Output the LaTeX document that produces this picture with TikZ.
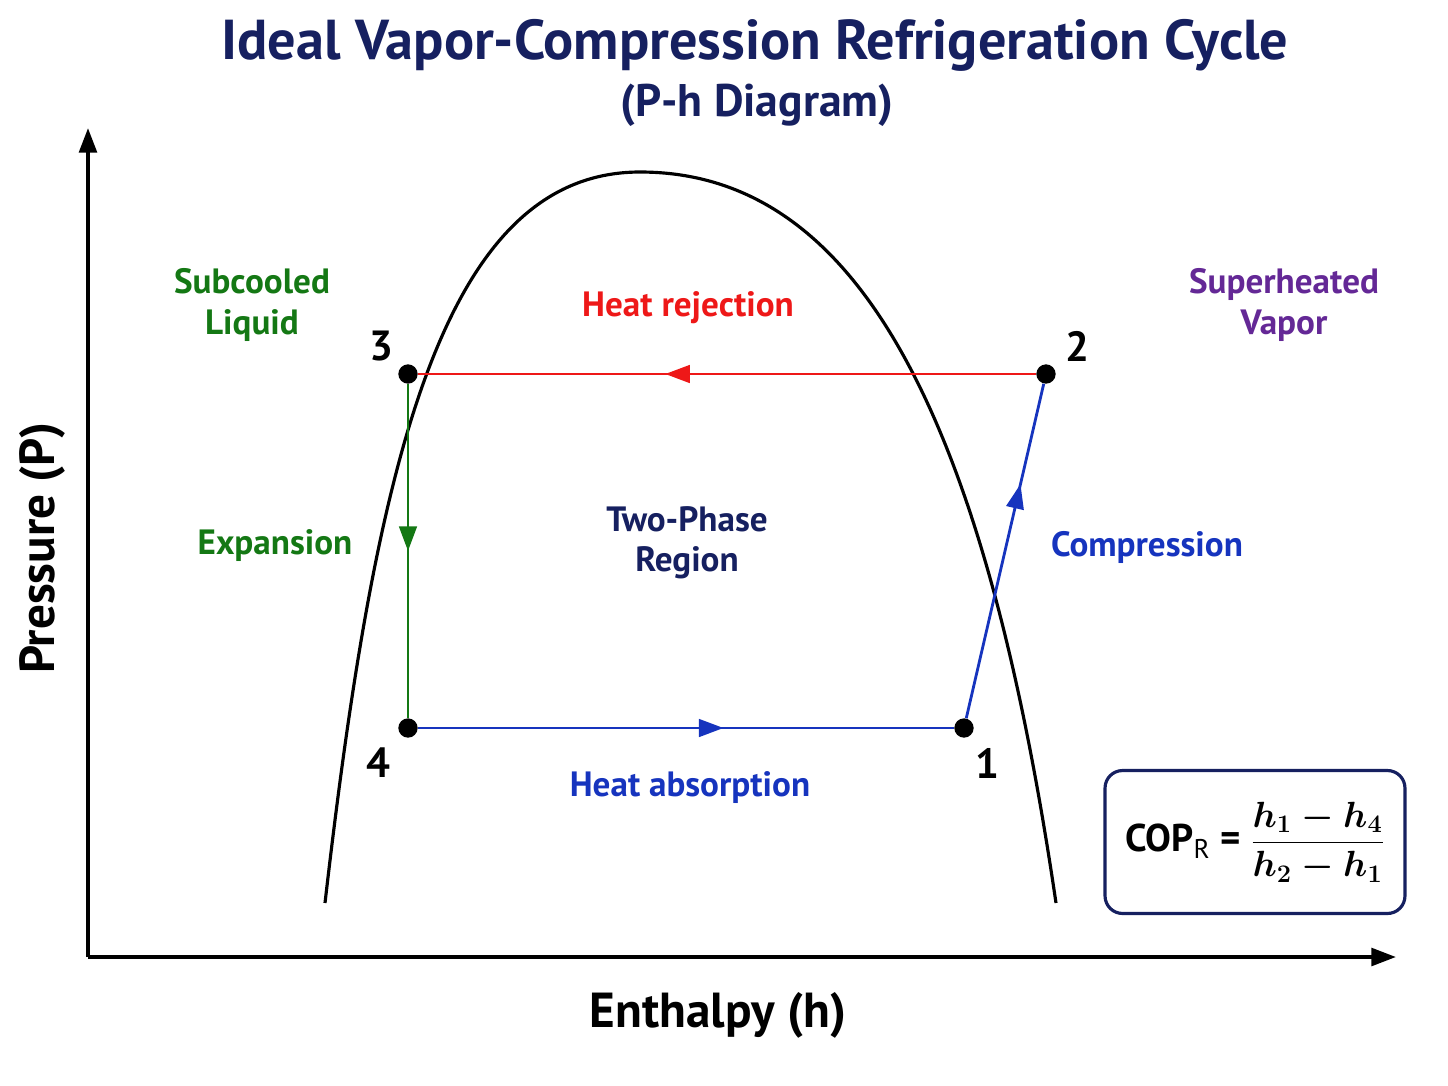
\documentclass[tikz,border=0pt]{standalone}
\usepackage{amsmath}
\usepackage{fontspec}
\setmainfont{PT Sans}
\usepackage{tikz}
\usetikzlibrary{arrows.meta, decorations.markings}
\definecolor{titlenavy}{RGB}{22,32,96}
\definecolor{cycred}{RGB}{238,24,24}
\definecolor{cycgreen}{RGB}{20,120,20}
\definecolor{cycblue}{RGB}{22,52,190}
\definecolor{cycpurple}{RGB}{100,40,150}

\begin{document}
\begin{tikzpicture}[
    x=0.02cm, y=-0.02cm,
    lbl/.style={font=\fontsize{20}{23}\selectfont\bfseries, align=center},
    num/.style={font=\fontsize{24}{26}\selectfont\bfseries},
    state/.style={circle, fill=black, inner sep=0pt, minimum size=11pt},
    axis/.style={-{Triangle[length=14pt,width=10pt]}, line width=2.2pt},
    flow/.style={line width=1.6pt, postaction={decorate}, decoration={markings,
        mark=at position #1 with {\arrow{Triangle[length=14pt,width=10pt]}}}}
]
\useasboundingbox (0,0) rectangle (1448,1086);

% Title
\node[font=\fontsize{32}{36}\selectfont\bfseries, text=titlenavy] (title) at (755,45) {Ideal Vapor-Compression Refrigeration Cycle};
\node[font=\fontsize{26}{30}\selectfont\bfseries, text=titlenavy] (subtitle) at (757,105) {(P-h Diagram)};

% Axes
\coordinate (origin) at (88,957);
\coordinate (ptop) at (88,128);
\coordinate (hend) at (1396,957);
\draw[axis] (origin) -- (ptop);
\draw[axis] (origin) -- (hend);
\node[font=\fontsize{28}{30}\selectfont\bfseries, rotate=90] (plabel) at (42,548) {Pressure (P)};
\node[font=\fontsize{28}{30}\selectfont\bfseries] (hlabel) at (718,1015) {Enthalpy (h)};

% Saturation dome
\draw[line width=1.8pt] (325,903) .. controls (375,470) and (440,172) .. (640,172)
    .. controls (860,172) and (985,420) .. (1056,903);

% States
\node[state] (s3) at (408,374) {};
\node[state] (s2) at (1046,374) {};
\node[state] (s4) at (408,728) {};
\node[state] (s1) at (964,728) {};
\node[num] (n3) at (381,346) {3};
\node[num] (n2) at (1077,346) {2};
\node[num] (n4) at (378,763) {4};
\node[num] (n1) at (987,763) {1};

% Processes
\draw[flow=0.6, cycred] (s2) -- (s3);
\draw[flow=0.5, cycgreen] (s3) -- (s4);
\draw[flow=0.57, cycblue] (s4) -- (s1);
\draw[flow=0.7, cycblue] (s1) -- (s2);

% Labels
\node[lbl, text=cycred] (rej) at (688,308) {Heat rejection};
\node[lbl, text=cycgreen] (sub) at (252,305) {Subcooled\\Liquid};
\node[lbl, text=cycpurple] (sup) at (1284,305) {Superheated\\Vapor};
\node[lbl, text=cycgreen] (exp) at (275,546) {Expansion};
\node[lbl, text=titlenavy] (two) at (687,543) {Two-Phase\\Region};
\node[lbl, text=cycblue] (comp) at (1147,547) {Compression};
\node[lbl, text=cycblue] (abs) at (690,788) {Heat absorption};

% COP
\node[draw=titlenavy, line width=1.8pt, rounded corners=10pt, minimum width=6cm, minimum height=2.86cm,
    font=\fontsize{22}{24}\selectfont\bfseries] (cop) at (1255,842)
    {COP$_{\mathrm{R}}$ = $\dfrac{\boldsymbol{h_1-h_4}}{\boldsymbol{h_2-h_1}}$};
\end{tikzpicture}
\end{document}
